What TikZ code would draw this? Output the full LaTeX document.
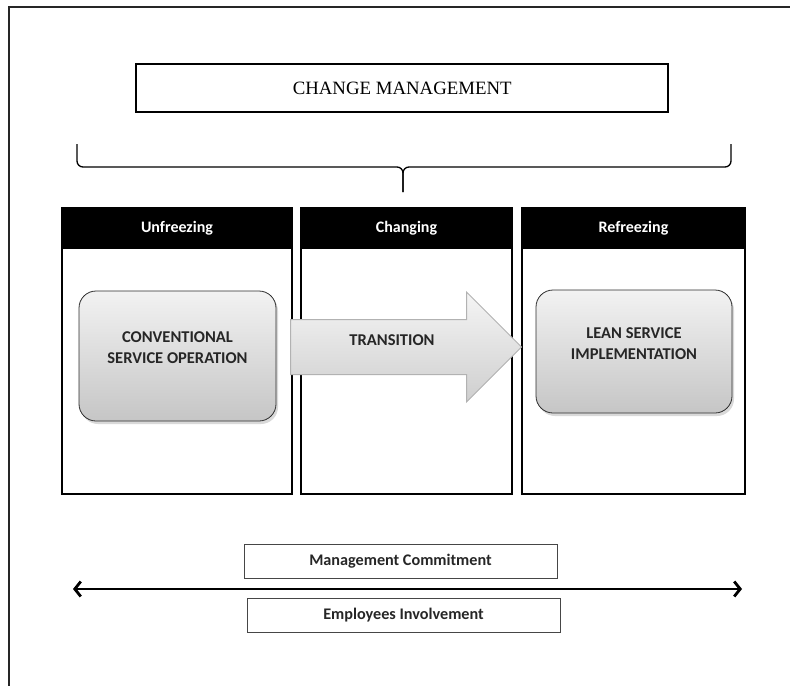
\documentclass[tikz,border=0pt]{standalone}
\usepackage{fontspec}
\newfontfamily\calibri{Carlito}
\newfontfamily\timesrm{Liberation Serif}
\usetikzlibrary{arrows.meta,positioning,shapes,shadows}

\begin{document}
\begin{tikzpicture}[
    x=1pt, y=-1pt,
    phase/.style={draw, line width=2pt, minimum height=286, anchor=north west},
    phasehead/.style={draw, fill=black, line width=2pt, text=white, minimum height=40, anchor=north west, font=\calibri\bfseries\fontsize{16}{19}\selectfont},
    stagebox/.style={draw=gray!35!black, line width=0.8pt, rounded corners=17, top color=gray!10, bottom color=gray!45,
      drop shadow={shadow xshift=2pt, shadow yshift=-3pt, opacity=.3}},
    stagetext/.style={align=center, font=\calibri\bfseries\fontsize{16.5}{21}\selectfont, text=black!85},
    bar/.style={draw=gray!55!black, line width=1pt, minimum width=313, minimum height=34, font=\calibri\bfseries\fontsize{16.2}{20}\selectfont, text=black!85}
  ]
    \useasboundingbox (0,0) rectangle (790,686);
    \draw[line width=1.6pt, black!85] (790,7) -- (9,7) -- (9,686);

    % title and brace
    \node[draw, line width=2.4pt, minimum width=532, minimum height=48, anchor=north west,
      font=\timesrm\fontsize{18.8}{20}\selectfont] (title) at (135,63) {CHANGE MANAGEMENT};
    \coordinate (bl) at (77,144);
    \coordinate (br) at (731,144);
    \coordinate (btip) at (403,192);
    \draw[line width=1.3pt, rounded corners=6] (bl) |- (403,167) -- (btip);
    \draw[line width=1.3pt, rounded corners=6] (br) |- (403,167) -- (btip);

    % the three phases
    \node[phase, minimum width=230] (unf) at (61,207) {};
    \node[phase, minimum width=211] (chg) at (300,207) {};
    \node[phase, minimum width=223] (ref) at (521,207) {};
    \node[phasehead, minimum width=230] (unfhead) at (61,207) {Unfreezing};
    \node[phasehead, minimum width=211] (chghead) at (300,207) {Changing};
    \node[phasehead, minimum width=223] (refhead) at (521,207) {Refreezing};

    \node[stagebox, minimum width=197, minimum height=130] (conv) at (177.5,356) {};
    \node[stagetext] (convtext) at ([yshift=8]conv.center) {CONVENTIONAL\\SERVICE OPERATION};

    \node[single arrow, draw=gray!60, line width=1pt, top color=gray!8, bottom color=gray!38,
      minimum height=231, minimum width=109, single arrow head extend=27.5, single arrow tip angle=90,
      anchor=tail, inner xsep=0pt, inner ysep=27pt] (trans) at (290,347) {};
    \node[stagetext] (transtext) at (392,340) {TRANSITION};

    \node[stagebox, minimum width=196, minimum height=123] (lean) at (634,351.5) {};
    \node[stagetext] (leantext) at ([yshift=8]lean.center) {LEAN SERVICE\\IMPLEMENTATION};

    % commitment and involvement
    \node[bar] (commit) at (400.5,561) {Management Commitment};
    \node[bar] (involve) at (403.5,615.5) {Employees Involvement};
    \coordinate (lend) at (73,589);
    \coordinate (rend) at (742,589);
    \draw[line width=2.8pt, {Straight Barb[length=6pt,width=15pt]}-{Straight Barb[length=6pt,width=15pt]}] (lend) -- (rend);
  \end{tikzpicture}
\end{document}
